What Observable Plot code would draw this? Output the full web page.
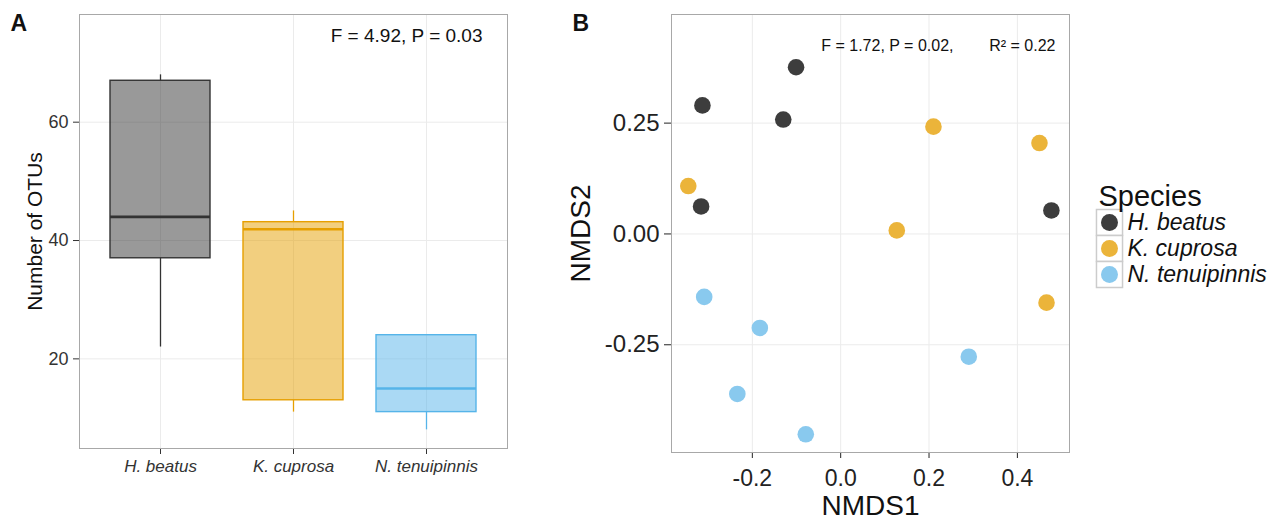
<!DOCTYPE html>
<html><head><meta charset="utf-8">
<script src="https://cdn.jsdelivr.net/npm/d3@7"></script>
<script src="https://cdn.jsdelivr.net/npm/@observablehq/plot@0.6"></script>
<style>
body{margin:0;background:#fff;width:1283px;height:523px;overflow:hidden;position:relative;font-family:"Liberation Sans",Arial,sans-serif}
.panel{position:absolute;top:0}
</style></head><body>
<div id="a" class="panel" style="left:0"></div>
<div id="b" class="panel" style="left:560px"></div>
<div id="leg" class="panel" style="left:1090px;top:170px"></div>
<script>
// ---- Panel A: box plot summary values ----
const species = ["H. beatus", "K. cuprosa", "N. tenuipinnis"];
const whiskerLow = [22, 11, 8];
const q1 = [37, 13, 11];
const median = [44, 41.9, 15];
const q3 = [67, 43.1, 24];
const whiskerHigh = [68, 45, 24];
const yTicksA = [20, 40, 60];
const annotA = "F = 4.92, P = 0.03";
const yLabelA = "Number of OTUs";

// ---- Panel B: NMDS ordination ----
const ptSpecies = ["H. beatus","H. beatus","H. beatus","H. beatus","H. beatus",
  "K. cuprosa","K. cuprosa","K. cuprosa","K. cuprosa","K. cuprosa",
  "N. tenuipinnis","N. tenuipinnis","N. tenuipinnis","N. tenuipinnis","N. tenuipinnis"];
const nmds1 = [-0.101, -0.313, -0.130, -0.316, 0.477,
  0.210, 0.450, -0.345, 0.127, 0.466,
  -0.309, -0.183, 0.290, -0.234, -0.079];
const nmds2 = [0.376, 0.290, 0.258, 0.062, 0.053,
  0.242, 0.205, 0.108, 0.008, -0.155,
  -0.142, -0.212, -0.277, -0.361, -0.452];
const xTicksB = [-0.2, 0, 0.2, 0.4];
const yTicksB = [-0.25, 0, 0.25];
const annotB1 = "F = 1.72, P = 0.02,";
const annotB2 = "R\u00B2 = 0.22";
const legendTitle = "Species";

const boxColors = ["#333333", "#E69F00", "#56B4E9"];
const pointColors = ["#3d3d3d", "#ebb43a", "#89c9ee"];
const FONT = "Liberation Sans, Arial, Helvetica, sans-serif";
const GRID = "#ebebeb";
const BORDER = "#a8a8a8";

const boxes = species.map((s, i) => ({species: s, lo: whiskerLow[i], q1: q1[i], med: median[i], q3: q3[i], hi: whiskerHigh[i]}));
const points = nmds1.map((x, i) => ({species: ptSpecies[i], x, y: nmds2[i]}));

const plotA = Plot.plot({
  width: 520, height: 523,
  marginLeft: 79, marginRight: 13, marginTop: 14, marginBottom: 75,
  style: {fontFamily: FONT, background: "white", color: "#333"},
  x: {type: "band", domain: species, paddingInner: 0.25, paddingOuter: 0.225},
  y: {domain: [4.85, 78.2]},
  color: {domain: species, range: boxColors},
  marks: [
    Plot.gridX({stroke: GRID, strokeOpacity: 1}),
    Plot.gridY(yTicksA, {stroke: GRID, strokeOpacity: 1}),
    Plot.ruleX(boxes, {x: "species", y1: "lo", y2: "q1", stroke: "species", strokeWidth: 1.3}),
    Plot.ruleX(boxes, {x: "species", y1: "q3", y2: "hi", stroke: "species", strokeWidth: 1.3}),
    Plot.barY(boxes, {x: "species", y1: "q1", y2: "q3", fill: "species", fillOpacity: 0.5, stroke: "species", strokeWidth: 1.4}),
    Plot.tickY(boxes, {x: "species", y: "med", stroke: "species", strokeWidth: 2.6}),
    Plot.axisY(yTicksA, {tickSize: 6, tickPadding: 5, fontSize: 18, label: null, color: "#333"}),
    Plot.axisX({tickSize: 6, tickPadding: 5, fontSize: 17, fontStyle: "italic", label: null, color: "#333"}),
    Plot.frame({stroke: BORDER}),
    Plot.text([yLabelA], {text: d => d, frameAnchor: "left", dx: -44, rotate: -90, fontSize: 21, fill: "#111", textAnchor: "middle", lineAnchor: "middle"}),
    Plot.text([annotA], {text: d => d, frameAnchor: "top-right", dx: -25, dy: 14, fontSize: 19, fill: "#111", textAnchor: "end", lineAnchor: "top"}),
    Plot.text(["A"], {text: d => d, frameAnchor: "top-left", dx: -69, dy: 0, fontSize: 23, fontWeight: "bold", fill: "#111", textAnchor: "start", lineAnchor: "top"})
  ]
});
document.getElementById("a").append(plotA);

const plotB = Plot.plot({
  width: 520, height: 523,
  marginLeft: 111, marginRight: 11, marginTop: 14, marginBottom: 71,
  style: {fontFamily: FONT, background: "white", color: "#222"},
  x: {domain: [-0.383, 0.518]},
  y: {domain: [-0.493, 0.495]},
  color: {domain: species, range: pointColors},
  marks: [
    Plot.gridX(xTicksB, {stroke: GRID, strokeOpacity: 1}),
    Plot.gridY(yTicksB, {stroke: GRID, strokeOpacity: 1}),
    Plot.axisX(xTicksB, {tickSize: 6, tickPadding: 11, fontSize: 23, tickFormat: d => d.toFixed(1), label: null, color: "#222"}),
    Plot.axisY(yTicksB, {tickSize: 7, tickPadding: 5, fontSize: 24, tickFormat: d => d.toFixed(2), label: null, color: "#222"}),
    Plot.dot(points, {x: "x", y: "y", r: 8.3, fill: "species"}),
    Plot.frame({stroke: BORDER}),
    Plot.text(["NMDS1"], {text: d => d, frameAnchor: "bottom", dy: 43, fontSize: 28, fill: "#111", lineAnchor: "top"}),
    Plot.text(["NMDS2"], {text: d => d, frameAnchor: "left", dx: -90, rotate: -90, fontSize: 28, fill: "#111", textAnchor: "middle", lineAnchor: "middle"}),
    Plot.text([annotB1], {text: d => d, frameAnchor: "top-right", dx: -116, dy: 25, fontSize: 16, fill: "#111", textAnchor: "end", lineAnchor: "top"}),
    Plot.text([annotB2], {text: d => d, frameAnchor: "top-right", dx: -14, dy: 25, fontSize: 16, fill: "#111", textAnchor: "end", lineAnchor: "top"}),
    Plot.text(["B"], {text: d => d, frameAnchor: "top-left", dx: -99, dy: 0, fontSize: 23, fontWeight: "bold", fill: "#111", textAnchor: "start", lineAnchor: "top"})
  ]
});
document.getElementById("b").append(plotB);

const legend = Plot.plot({
  width: 193, height: 130,
  marginLeft: 0, marginRight: 0, marginTop: 38, marginBottom: 13,
  style: {fontFamily: FONT, background: "white", overflow: "visible"},
  y: {type: "band", domain: species, padding: 0, axis: null},
  color: {domain: species, range: pointColors},
  marks: [
    Plot.dot(species, {y: d => d, frameAnchor: "left", dx: 19, symbol: "square", r: 14.7, fill: "white", stroke: "#cccccc"}),
    Plot.dot(species, {y: d => d, frameAnchor: "left", dx: 19, r: 8.5, fill: d => d}),
    Plot.text(species, {y: d => d, text: d => d, frameAnchor: "left", dx: 37, fontSize: 23, fontStyle: "italic", fill: "#111", textAnchor: "start", lineAnchor: "middle"}),
    Plot.text([legendTitle], {text: d => d, frameAnchor: "top-left", dx: 8, dy: -23, fontSize: 29, fill: "#111", textAnchor: "start", lineAnchor: "top"})
  ]
});
document.getElementById("leg").append(legend);
</script>
</body></html>
